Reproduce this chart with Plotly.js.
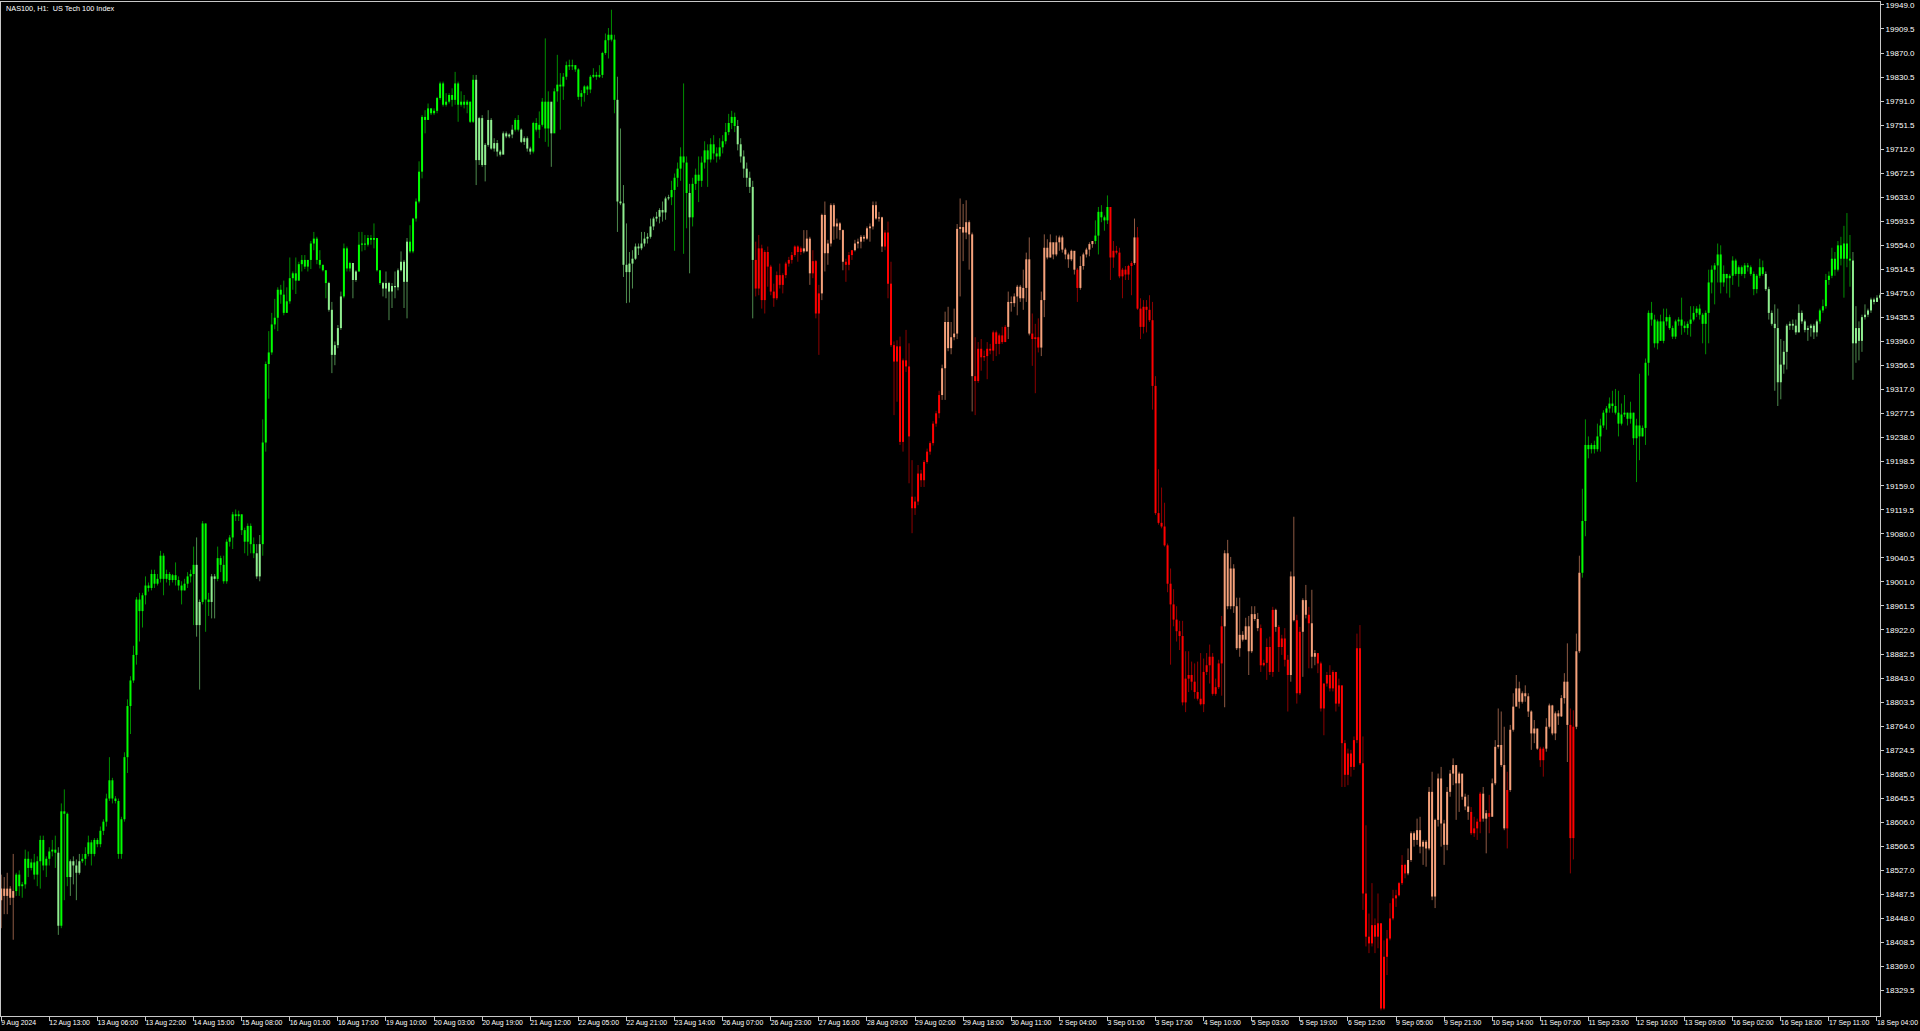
<!DOCTYPE html>
<html>
<head>
<meta charset="utf-8">
<script src="https://cdn.plot.ly/plotly-3.0.1.min.js"></script>
<style>html,body{margin:0;padding:0;background:#000;overflow:hidden}#chart{width:1920px;height:1031px}</style>
</head>
<body>
<div id="chart"></div>
<script>
// NAS100 H1 candles, index 0 = 9 Aug 2024 (first visible bar)
const openPrices = [
18478,18497,18485,18497,18482,18493,18520,18501,18504,18546,
18531,18540,18520,18542,18577,18535,18546,18558,18561,18556,
18436,18624,18620,18516,18542,18535,18523,18542,18546,18554,
18573,18554,18577,18570,18592,18607,18645,18675,18645,18641,
18554,18611,18713,18797,18839,18881,18972,18953,18979,18995,
18991,19014,18998,19006,19044,19006,19014,19004,19012,19004,
18995,18987,18998,19010,19014,19029,18930,18968,19097,18972,
18968,19010,19006,19040,19029,19002,19067,19074,19112,19109,
19112,19086,19067,19093,19063,19048,19010,19063,19230,19359,
19378,19424,19435,19481,19473,19443,19462,19500,19508,19496,
19523,19530,19519,19530,19557,19565,19530,19522,19513,19492,
19448,19374,19390,19418,19470,19549,19516,19525,19497,19511,
19555,19557,19555,19566,19563,19566,19513,19492,19483,19492,
19478,19487,19485,19513,19527,19494,19560,19544,19598,19626,
19675,19765,19760,19779,19771,19775,19796,19820,19785,19790,
19801,19793,19820,19785,19790,19785,19790,19757,19826,19694,
19763,19686,19719,19760,19713,19722,19708,19703,19738,19733,
19736,19744,19760,19744,19724,19730,19713,19708,19755,19744,
19752,19790,19746,19790,19738,19807,19818,19815,19831,19850,
19848,19850,19843,19798,19804,19815,19810,19831,19834,19831,
19834,19870,19891,19900,19892,19793,19626,19623,19522,19510,
19524,19532,19552,19549,19557,19565,19568,19585,19598,19601,
19612,19608,19631,19633,19645,19665,19680,19700,19690,19640,
19600,19655,19670,19660,19690,19710,19695,19720,19705,19700,
19715,19725,19740,19755,19765,19750,19720,19700,19680,19665,
19650,19530,19483,19549,19464,19543,19519,19478,19467,19505,
19489,19505,19524,19530,19538,19552,19543,19549,19544,19565,
19508,19528,19442,19475,19604,19541,19557,19620,19585,19590,
19579,19527,19522,19538,19546,19557,19560,19568,19565,19582,
19585,19620,19598,19600,19552,19575,19491,19390,19363,19388,
19231,19365,19355,19141,19122,19133,19179,19168,19198,19215,
19229,19261,19278,19308,19352,19428,19385,19403,19409,19581,
19584,19575,19592,19572,19339,19331,19384,19370,19372,19384,
19381,19411,19392,19406,19395,19420,19461,19459,19470,19486,
19467,19484,19531,19409,19400,19403,19386,19464,19550,19534,
19559,19539,19559,19567,19547,19539,19531,19545,19514,19484,
19520,19539,19547,19556,19561,19570,19609,19600,19595,19617,
19534,19545,19542,19503,19514,19506,19520,19525,19567,19450,
19420,19453,19448,19431,19323,19114,19098,19092,19061,18998,
18964,18939,18920,18912,18803,18842,18848,18837,18820,18809,
18800,18853,18864,18878,18817,18828,18867,18928,19048,18961,
19023,18961,18892,18914,18906,18928,18887,18948,18940,18925,
18864,18868,18894,18853,18955,18927,18894,18908,18873,18848,
19010,18938,18818,18919,18971,18947,18933,18878,18884,18867,
18793,18834,18848,18826,18853,18801,18831,18736,18684,18719,
18697,18741,18892,18703,18489,18418,18407,18437,18418,18440,
18300,18385,18415,18448,18481,18486,18506,18536,18522,18544,
18588,18577,18593,18566,18574,18563,18656,18484,18610,18678,
18604,18569,18656,18686,18700,18670,18686,18648,18632,18623,
18588,18596,18607,18653,18612,18621,18615,18670,18730,18733,
18700,18596,18659,18758,18796,18826,18804,18818,18813,18788,
18752,18760,18727,18708,18727,18763,18798,18752,18785,18780,
18810,18837,18766,18580,18763,18887,19016,19101,19226,19219,
19226,19219,19240,19258,19279,19286,19294,19290,19279,19261,
19276,19279,19269,19279,19237,19258,19240,19254,19361,19443,
19432,19393,19429,19397,19429,19436,19418,19404,19429,19432,
19422,19418,19425,19432,19443,19450,19440,19425,19443,19493,
19514,19521,19539,19493,19507,19500,19504,19529,19507,19518,
19507,19521,19518,19507,19482,19504,19518,19507,19482,19443,
19425,19418,19329,19358,19379,19422,19425,19422,19411,19443,
19429,19415,19418,19422,19411,19429,19447,19454,19497,19504,
19532,19514,19554,19532,19557,19532,19529,19393,19418,19397,
19436,19440,19447,19465,19461,19468
];
const highPrices = [
18520,18516,18523,18501,18554,18523,18527,18508,18561,18558,
18546,18554,18550,18584,18584,18550,18565,18577,18584,18565,
18637,18660,18622,18545,18550,18545,18554,18554,18565,18584,
18577,18580,18580,18599,18611,18653,18713,18679,18649,18645,
18615,18721,18808,18846,18896,18976,18983,18983,19010,19000,
19021,19021,19014,19052,19048,19021,19017,19014,19033,19010,
19002,19006,19017,19021,19059,19074,18972,19101,19097,18983,
19014,19014,19059,19044,19044,19071,19078,19116,19120,19118,
19112,19090,19097,19097,19074,19063,19078,19268,19363,19413,
19443,19466,19485,19489,19496,19485,19534,19511,19534,19527,
19538,19538,19530,19561,19576,19568,19546,19522,19513,19494,
19461,19396,19423,19478,19557,19552,19527,19525,19513,19576,
19576,19571,19571,19571,19590,19566,19513,19494,19511,19494,
19492,19511,19516,19544,19530,19566,19587,19598,19631,19692,
19768,19776,19787,19779,19779,19798,19823,19823,19804,19804,
19812,19839,19823,19807,19801,19793,19790,19834,19834,19765,
19768,19722,19776,19763,19730,19727,19711,19741,19741,19738,
19752,19763,19768,19746,19733,19733,19716,19757,19763,19774,
19796,19894,19807,19787,19812,19867,19837,19837,19856,19859,
19859,19850,19845,19809,19817,19817,19834,19845,19839,19850,
19872,19902,19911,19941,19900,19831,19746,19653,19590,19543,
19546,19557,19557,19576,19576,19574,19598,19601,19609,19615,
19626,19634,19637,19660,19672,19690,19715,19820,19700,19655,
19665,19680,19700,19700,19725,19720,19730,19735,19715,19730,
19735,19755,19770,19775,19772,19760,19730,19710,19690,19675,
19660,19560,19571,19555,19546,19552,19522,19491,19511,19524,
19508,19527,19535,19543,19554,19554,19552,19579,19579,19568,
19546,19530,19489,19606,19626,19563,19623,19623,19598,19592,
19580,19532,19543,19546,19563,19565,19571,19571,19585,19590,
19626,19626,19609,19601,19579,19593,19527,19396,19398,19404,
19368,19415,19393,19201,19141,19193,19185,19201,19220,19232,
19265,19282,19315,19358,19445,19453,19428,19450,19589,19631,
19622,19628,19595,19575,19403,19395,19400,19381,19395,19392,
19414,19414,19409,19420,19423,19478,19470,19475,19489,19489,
19514,19542,19567,19442,19425,19434,19478,19572,19564,19572,
19547,19570,19570,19570,19550,19542,19547,19539,19517,19536,
19542,19550,19559,19561,19595,19617,19620,19603,19636,19592,
19561,19553,19550,19517,19520,19522,19528,19598,19584,19467,
19464,19464,19472,19461,19339,19186,19156,19131,19064,19023,
18989,18961,18937,18937,18887,18887,18870,18867,18870,18884,
18875,18884,18898,18884,18842,18873,18945,19053,19070,19042,
19030,18975,18975,18920,18942,18945,18961,18961,18950,18931,
18873,18908,18911,18960,18957,18930,18914,18925,18881,19018,
19108,18947,18927,18974,18996,18960,18988,18889,18881,18870,
18834,18853,18864,18856,18853,18842,18807,18741,18727,18725,
18747,18916,18930,18747,18601,18456,18506,18448,18489,18440,
18412,18429,18473,18495,18495,18508,18552,18538,18563,18591,
18591,18612,18615,18577,18577,18664,18689,18612,18686,18697,
18610,18664,18692,18711,18689,18689,18667,18653,18651,18631,
18615,18612,18656,18664,18626,18651,18678,18741,18793,18788,
18763,18689,18766,18818,18848,18837,18821,18831,18818,18790,
18774,18760,18730,18730,18777,18801,18799,18788,18790,18815,
18851,18900,18793,18790,18916,19044,19154,19268,19240,19229,
19233,19261,19269,19283,19290,19304,19315,19318,19315,19294,
19308,19279,19297,19279,19269,19343,19258,19368,19447,19461,
19440,19432,19440,19450,19450,19440,19422,19432,19436,19468,
19429,19429,19454,19454,19454,19457,19443,19447,19514,19521,
19525,19557,19554,19521,19507,19507,19536,19532,19521,19521,
19525,19525,19521,19511,19507,19532,19529,19511,19486,19447,
19457,19450,19400,19397,19425,19429,19432,19432,19457,19447,
19432,19422,19425,19425,19432,19450,19465,19507,19511,19550,
19543,19561,19568,19586,19607,19571,19543,19454,19429,19440,
19457,19450,19468,19468,19472,19475
];
const lowPrices = [
18432,18455,18455,18470,18413,18485,18485,18482,18497,18516,
18527,18512,18501,18497,18527,18516,18535,18550,18531,18421,
18432,18478,18501,18485,18504,18478,18520,18539,18535,18550,
18535,18550,18565,18565,18585,18599,18641,18637,18637,18546,
18546,18607,18687,18751,18835,18865,18903,18926,18964,18985,
18987,18991,18995,19000,18979,19000,18995,19000,18995,18987,
18964,18987,18991,19000,18930,18911,18824,18964,18919,18945,
18941,18941,19002,19017,18998,18998,19059,19055,19101,19101,
19078,19048,19044,19048,19040,19006,19002,19044,19215,19302,
19374,19416,19413,19458,19439,19458,19458,19481,19474,19496,
19511,19515,19511,19515,19546,19523,19516,19511,19467,19445,
19344,19357,19385,19415,19467,19511,19511,19467,19494,19511,
19544,19546,19552,19555,19549,19511,19489,19470,19467,19431,
19451,19467,19480,19511,19451,19434,19541,19541,19593,19623,
19664,19738,19771,19768,19768,19771,19793,19782,19782,19787,
19782,19785,19757,19782,19779,19771,19755,19755,19653,19686,
19683,19659,19716,19711,19708,19700,19700,19705,19730,19730,
19730,19741,19741,19722,19719,19708,19703,19705,19741,19730,
19749,19724,19716,19683,19780,19790,19744,19793,19826,19842,
19842,19839,19793,19782,19790,19801,19804,19829,19826,19829,
19829,19867,19861,19889,19771,19576,19620,19502,19459,19460,
19483,19530,19538,19546,19552,19557,19565,19579,19593,19590,
19593,19596,19628,19620,19545,19650,19660,19540,19582,19508,
19585,19645,19625,19650,19680,19650,19690,19695,19690,19695,
19705,19720,19735,19745,19740,19710,19690,19665,19650,19640,
19434,19470,19472,19450,19442,19486,19472,19453,19464,19483,
19475,19500,19519,19524,19535,19527,19538,19541,19544,19489,
19500,19434,19374,19464,19511,19522,19552,19563,19565,19563,
19513,19494,19513,19530,19544,19549,19549,19560,19563,19560,
19580,19596,19593,19543,19546,19467,19387,19275,19297,19226,
19215,19346,19163,19081,19111,19127,19157,19157,19195,19210,
19225,19256,19270,19300,19300,19380,19375,19398,19400,19470,
19528,19564,19514,19281,19275,19328,19348,19364,19334,19375,
19364,19372,19375,19392,19400,19400,19445,19453,19439,19461,
19448,19461,19406,19356,19311,19378,19372,19436,19531,19534,
19531,19536,19545,19542,19531,19517,19528,19506,19461,19481,
19514,19534,19536,19550,19556,19539,19592,19578,19589,19497,
19517,19539,19500,19467,19497,19497,19472,19522,19448,19400,
19409,19411,19428,19284,19111,19095,19089,19059,18984,18865,
18928,18903,18889,18798,18787,18820,18823,18809,18806,18798,
18787,18848,18834,18814,18814,18825,18814,18795,18956,18956,
18950,18889,18878,18903,18920,18848,18884,18937,18920,18853,
18862,18840,18848,18845,18919,18853,18881,18862,18788,18837,
18936,18801,18815,18845,18941,18859,18859,18864,18851,18788,
18749,18829,18821,18821,18788,18796,18664,18664,18667,18681,
18692,18736,18700,18462,18402,18391,18402,18391,18399,18297,
18298,18355,18412,18445,18467,18484,18503,18514,18519,18541,
18566,18569,18555,18536,18533,18560,18478,18465,18599,18566,
18536,18560,18648,18667,18610,18623,18643,18626,18610,18585,
18582,18577,18588,18607,18555,18588,18618,18667,18727,18697,
18593,18563,18656,18755,18801,18793,18801,18804,18779,18725,
18736,18725,18697,18681,18722,18760,18749,18741,18766,18779,
18801,18705,18522,18545,18759,18884,19008,19076,19204,19212,
19212,19215,19215,19254,19251,19279,19279,19276,19240,19258,
19272,19258,19261,19226,19165,19201,19240,19226,19340,19422,
19386,19383,19397,19393,19422,19415,19400,19400,19422,19407,
19411,19407,19404,19429,19436,19432,19393,19375,19393,19475,
19457,19493,19475,19486,19475,19468,19489,19504,19486,19504,
19500,19511,19504,19472,19475,19500,19504,19479,19432,19422,
19315,19290,19301,19343,19350,19415,19415,19407,19411,19425,
19411,19397,19404,19400,19404,19425,19443,19450,19489,19500,
19504,19511,19521,19468,19518,19486,19333,19361,19365,19379,
19432,19436,19443,19457,19461,19465
];
const closePrices = [
18497,18485,18497,18482,18493,18520,18501,18504,18546,18531,
18540,18520,18542,18577,18535,18546,18558,18561,18556,18436,
18624,18620,18516,18542,18535,18523,18542,18546,18554,18573,
18554,18577,18570,18592,18607,18645,18675,18645,18641,18554,
18611,18713,18797,18839,18881,18972,18953,18979,18995,18991,
19014,18998,19006,19044,19006,19014,19004,19012,19004,18995,
18987,18998,19010,19014,19029,18930,18968,19097,18972,18968,
19010,19006,19040,19029,19002,19067,19074,19112,19109,19112,
19086,19067,19093,19063,19048,19010,19063,19230,19359,19378,
19424,19435,19481,19473,19443,19462,19500,19508,19496,19523,
19530,19519,19530,19557,19565,19530,19522,19513,19492,19448,
19374,19390,19418,19470,19549,19516,19525,19497,19511,19555,
19557,19555,19566,19563,19566,19513,19492,19483,19492,19478,
19487,19485,19513,19527,19494,19560,19544,19598,19626,19675,
19765,19760,19779,19771,19775,19796,19820,19785,19790,19801,
19793,19820,19785,19790,19785,19790,19757,19826,19694,19763,
19686,19719,19760,19713,19722,19708,19703,19738,19733,19736,
19744,19760,19744,19724,19730,19713,19708,19755,19744,19752,
19790,19746,19790,19738,19807,19818,19815,19831,19850,19848,
19850,19843,19798,19804,19815,19810,19831,19834,19831,19834,
19870,19891,19900,19892,19793,19626,19623,19522,19510,19524,
19532,19552,19549,19557,19565,19568,19585,19598,19601,19612,
19608,19631,19633,19645,19665,19680,19700,19690,19640,19600,
19655,19670,19660,19690,19710,19695,19720,19705,19700,19715,
19725,19740,19755,19765,19750,19720,19700,19680,19665,19650,
19530,19483,19549,19464,19543,19519,19478,19467,19505,19489,
19505,19524,19530,19538,19552,19543,19549,19544,19565,19508,
19528,19442,19475,19604,19541,19557,19620,19585,19590,19579,
19527,19522,19538,19546,19557,19560,19568,19565,19582,19585,
19620,19598,19600,19552,19575,19491,19390,19363,19388,19231,
19365,19355,19240,19122,19133,19179,19168,19198,19215,19229,
19261,19278,19308,19352,19428,19385,19403,19409,19581,19584,
19575,19592,19572,19339,19331,19384,19370,19372,19384,19381,
19411,19392,19406,19395,19420,19461,19459,19470,19486,19467,
19484,19531,19409,19400,19403,19386,19464,19550,19534,19559,
19539,19559,19567,19547,19539,19531,19545,19514,19484,19520,
19539,19547,19556,19561,19570,19609,19600,19595,19617,19534,
19545,19542,19503,19514,19506,19520,19525,19567,19450,19420,
19453,19448,19431,19323,19114,19098,19092,19061,18998,18964,
18939,18920,18912,18803,18842,18848,18837,18820,18809,18800,
18853,18864,18878,18817,18828,18867,18928,19048,18961,19023,
18961,18892,18914,18906,18928,18887,18948,18940,18925,18864,
18868,18894,18853,18955,18927,18894,18908,18873,18848,19010,
18938,18818,18919,18971,18947,18933,18878,18884,18867,18793,
18834,18848,18826,18853,18801,18831,18736,18684,18719,18697,
18741,18892,18703,18489,18418,18407,18437,18418,18440,18300,
18385,18415,18448,18481,18486,18506,18536,18522,18544,18588,
18577,18593,18566,18574,18563,18656,18484,18610,18678,18604,
18569,18656,18686,18700,18670,18686,18648,18632,18623,18588,
18596,18607,18653,18612,18621,18615,18670,18730,18733,18700,
18596,18659,18758,18796,18826,18804,18818,18813,18788,18752,
18760,18727,18708,18727,18763,18798,18752,18785,18780,18810,
18837,18766,18580,18763,18887,19016,19101,19226,19219,19226,
19219,19240,19258,19279,19286,19294,19290,19279,19261,19276,
19279,19269,19279,19237,19258,19240,19254,19361,19443,19432,
19393,19429,19397,19429,19436,19418,19404,19429,19432,19422,
19418,19425,19432,19443,19450,19440,19425,19443,19493,19514,
19521,19539,19493,19507,19500,19504,19529,19507,19518,19507,
19521,19518,19507,19482,19504,19518,19507,19482,19443,19425,
19418,19329,19358,19379,19422,19425,19422,19411,19443,19429,
19415,19418,19422,19411,19429,19447,19454,19497,19504,19532,
19514,19554,19532,19557,19532,19529,19393,19418,19397,19436,
19440,19447,19465,19461,19468,19472
];
// trend colour of each bar: G = lime, L = light green, S = salmon, R = red (runs in bar order)
const trendRuns = [
["S",5],["G",14],["L",1],["G",3],["L",4],["G",38],["L",2],["G",3],["L",2],["G",13],
["L",2],["G",22],["L",5],["G",3],["L",2],["G",8],["L",9],["G",22],["L",13],["G",2],
["L",4],["G",6],["L",1],["G",21],["L",18],["G",6],["L",1],["G",8],["G",1],["G",6],
["L",6],["R",16],["S",3],["R",3],["S",8],["R",3],["S",10],["R",19],["S",11],["R",11],
["S",8],["R",3],["S",12],["R",1],["S",5],["G",5],["R",8],["S",1],["R",29],["S",12],
["R",5],["S",1],["R",4],["S",2],["R",2],["S",2],["R",1],["S",2],["R",30],["S",21],
["R",4],["S",2],["R",1],["S",5],["R",1],["S",10],["R",2],["S",8],["R",2],["S",2],
["G",61],["L",18],["G",11],["L",10]
];
const xTickIdx = [0,16,32,48,64,80,96,112,128,144,160,176,192,208,224,240,256,272,288,304,
320,336,352,368,384,400,416,432,448,464,480,496,512,528,544,560,576,592,608,624];
const xTickText = ["9 Aug 2024","12 Aug 13:00","13 Aug 06:00","13 Aug 22:00","14 Aug 15:00","15 Aug 08:00",
"16 Aug 01:00","16 Aug 17:00","19 Aug 10:00","20 Aug 03:00","20 Aug 19:00","21 Aug 12:00","22 Aug 05:00",
"22 Aug 21:00","23 Aug 14:00","26 Aug 07:00","26 Aug 23:00","27 Aug 16:00","28 Aug 09:00","29 Aug 02:00",
"29 Aug 18:00","30 Aug 11:00","2 Sep 04:00","3 Sep 01:00","3 Sep 17:00","4 Sep 10:00","5 Sep 03:00",
"5 Sep 19:00","6 Sep 12:00","9 Sep 05:00","9 Sep 21:00","10 Sep 14:00","11 Sep 07:00","11 Sep 23:00",
"12 Sep 16:00","13 Sep 09:00","16 Sep 02:00","16 Sep 18:00","17 Sep 11:00","18 Sep 04:00"];
const yTickVals = [18329.5,18369.0,18408.5,18448.0,18487.5,18527.0,18566.5,18606.0,18645.5,18685.0,
18724.5,18764.0,18803.5,18843.0,18882.5,18922.0,18961.5,19001.0,19040.5,19080.0,
19119.5,19159.0,19198.5,19238.0,19277.5,19317.0,19356.5,19396.0,19435.5,19475.0,
19514.5,19554.0,19593.5,19633.0,19672.5,19712.0,19751.5,19791.0,19830.5,19870.0,
19909.5,19949.0];
const chartTitle = "NAS100, H1:  US Tech 100 Index";

const styles = {
  L: {body: "#90EE90", wick: "#4E8A4E"},
  G: {body: "#00FF00", wick: "#008F00"},
  S: {body: "#F6A27C", wick: "#8E5A44"},
  R: {body: "#FF0000", wick: "#8E0000"}
};

const trend = [];
trendRuns.forEach(([c, n]) => { for (let k = 0; k < n; k++) trend.push(c); });

const traces = [];
["L","G","S","R"].forEach(code => {
  const wx = [], wy = [], bx = [], by = [];
  for (let i = 0; i < closePrices.length; i++) {
    if (trend[i] !== code) continue;
    const o = openPrices[i], c = closePrices[i];
    wx.push(i, i, null); wy.push(lowPrices[i], highPrices[i], null);
    let lo = Math.min(o, c), hi = Math.max(o, c);
    if (hi - lo < 1.4) { const m = (hi + lo) / 2; lo = m - 0.8; hi = m + 0.8; }
    bx.push(i, i, null); by.push(lo, hi, null);
  }
  traces.push({type: "scatter", mode: "lines", x: wx, y: wy, line: {color: styles[code].wick, width: 1}, hoverinfo: "skip", connectgaps: false});
  traces.push({type: "scatter", mode: "lines", x: bx, y: by, line: {color: styles[code].body, width: 2}, hoverinfo: "skip", connectgaps: false});
});

const axisColor = "#C8C8C8";
const fontFamily = "Liberation Sans, Arial, sans-serif";

const layout = {
  width: 1920, height: 1031,
  paper_bgcolor: "#000000", plot_bgcolor: "#000000",
  margin: {l: 1, r: 40, t: 2, b: 15, pad: 0},
  showlegend: false,
  xaxis: {
    range: [-0.07, 625.0], tickmode: "array", tickvals: xTickIdx, ticktext: xTickText,
    ticks: "outside", ticklen: 4, tickwidth: 1, tickcolor: axisColor, tickangle: 0,
    ticklabelposition: "outside right", ticklabeloverflow: "allow", ticklabelshift: -1,
    showline: true, linecolor: axisColor, linewidth: 1, mirror: true,
    showgrid: false, zeroline: false, fixedrange: true,
    tickfont: {family: fontFamily, size: 6.9, color: "#FFFFFF"}
  },
  yaxis: {
    side: "right", range: [18287.7, 19953.8],
    tickmode: "array", tickvals: yTickVals, tickformat: ".1f",
    ticks: "outside", ticklen: 3, tickwidth: 1, tickcolor: axisColor,
    showline: true, linecolor: axisColor, linewidth: 1, mirror: true,
    showgrid: false, zeroline: false, fixedrange: true,
    tickfont: {family: fontFamily, size: 8, color: "#FFFFFF"}
  },
  annotations: [{
    text: chartTitle, xref: "paper", yref: "paper", x: 0, y: 1,
    xanchor: "left", yanchor: "top", showarrow: false, xshift: 3, yshift: 0,
    font: {family: fontFamily, size: 7.3, color: "#FFFFFF"}
  }]
};

Plotly.newPlot("chart", traces, layout, {staticPlot: true, displayModeBar: false});
</script>
</body>
</html>
